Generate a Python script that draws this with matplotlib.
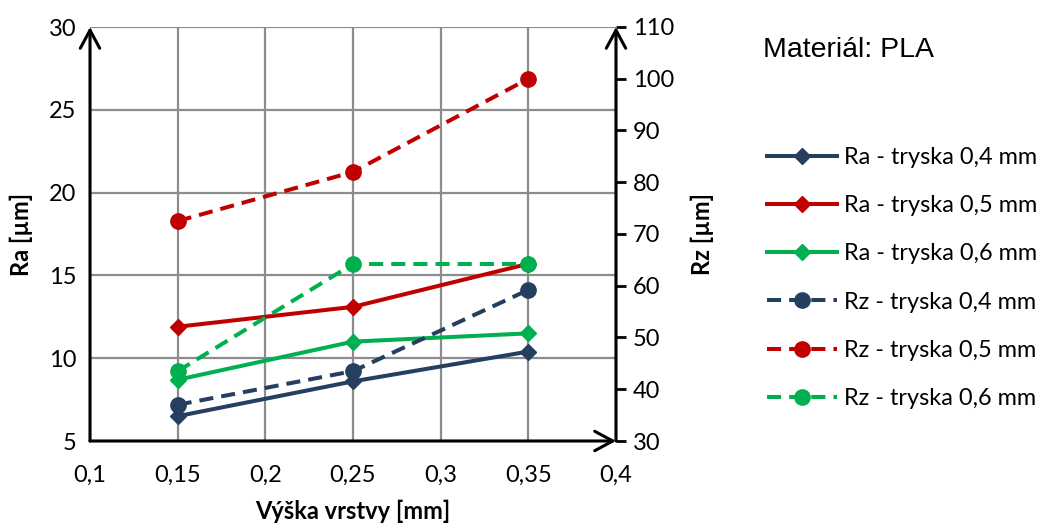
import matplotlib
matplotlib.use("Agg")
import matplotlib.pyplot as plt
from matplotlib.ticker import FuncFormatter

# data
vyska = [0.15, 0.25, 0.35]
ra_04 = [6.5, 8.6, 10.4]
ra_05 = [11.9, 13.1, 15.7]
ra_06 = [8.7, 11.0, 11.5]
rz_04 = [37.0, 43.5, 59.2]
rz_05 = [72.5, 82.0, 100.0]
rz_06 = [43.5, 64.2, 64.2]
labels = ["0,4", "0,5", "0,6"]
colors = ["#243F60", "#C00000", "#00B050"]

plt.rcParams['font.family'] = ['Lato', 'DejaVu Sans']

fig = plt.figure(figsize=(10.49, 5.27), dpi=100)
ax = fig.add_axes([90 / 1049, 1 - 441 / 527, (616 - 90) / 1049, (441 - 27) / 527])
ax2 = ax.twinx()

handles = []
for y, c, lab in zip([ra_04, ra_05, ra_06], colors, labels):
    h, = ax.plot(vyska, y, color=c, lw=2.9, marker='D', ms=8.5,
                 label=f"Ra - tryska {lab} mm", clip_on=False, zorder=3)
    handles.append(h)
for y, c, lab in zip([rz_04, rz_05, rz_06], colors, labels):
    h, = ax2.plot(vyska, y, color=c, lw=2.9, ls=(0, (3.5, 2)), marker='o', ms=11,
                  label=f"Rz - tryska {lab} mm", clip_on=False, zorder=3)
    handles.append(h)

ax.set_xlim(0.1, 0.4)
ax.set_ylim(5, 30)
ax2.set_ylim(30, 110)
ax.set_xticks([0.1, 0.15, 0.2, 0.25, 0.3, 0.35, 0.4])
ax.set_yticks([5, 10, 15, 20, 25, 30])
ax2.set_yticks(range(30, 111, 10))

comma = FuncFormatter(lambda v, p: f"{v:g}".replace(".", ","))
ax.xaxis.set_major_formatter(comma)

ax.grid(True, color="#8C8C8C", lw=1.6)
ax.set_axisbelow(True)

for a in (ax, ax2):
    for s in a.spines.values():
        s.set_visible(False)
ax.tick_params(axis='both', length=0, labelsize=17, pad=10)
ax.tick_params(axis='x', pad=17)
ax2.tick_params(axis='y', length=7, width=2, direction='out', labelsize=17, pad=5)

# axis lines with open arrow heads
for start, end in [((0, 0), (0, 1.0)), ((0, 0), (1.0, 0)), ((1, 0), (1, 1.0))]:
    ax.annotate("", xy=end, xytext=start, xycoords='axes fraction',
                arrowprops=dict(arrowstyle='->,head_length=1.3,head_width=0.7',
                                color='black', lw=2.2, shrinkA=0, shrinkB=0),
                zorder=5, annotation_clip=False)

ax.set_xlabel("Výška vrstvy [mm]", fontsize=17, fontweight='bold', labelpad=10)
ax.set_ylabel("Ra [µm]", fontsize=17, fontweight='bold', labelpad=11)
ax2.set_ylabel("Rz [µm]", fontsize=17, fontweight='bold', labelpad=12)

fig.text(763 / 1049, 1 - 50 / 527, "Materiál: PLA", fontsize=20.5,
         family=['Liberation Sans', 'DejaVu Sans'], va='center')

fig.legend(handles=handles, loc='center left', bbox_to_anchor=(767 / 1049, 1 - 278 / 527),
           frameon=False, fontsize=16.9, handlelength=3.0, handletextpad=0.28,
           labelspacing=1.16, borderpad=0, borderaxespad=0)

fig.savefig("out.png", dpi=100)
